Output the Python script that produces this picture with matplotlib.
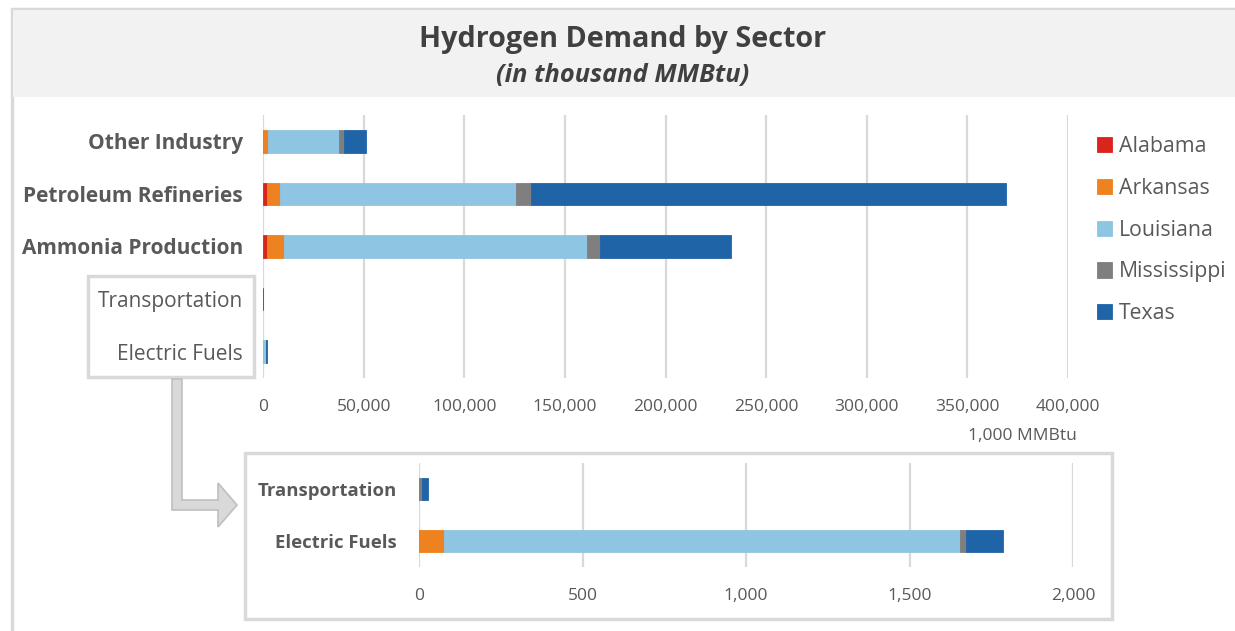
import matplotlib
matplotlib.use('Agg')
import numpy as np
import matplotlib.pyplot as plt
from matplotlib.patches import Rectangle, Polygon
from matplotlib.ticker import FuncFormatter

plt.rcParams['font.family'] = ['Open Sans', 'DejaVu Sans']

# data (thousand MMBtu)
sectors = ['Other Industry', 'Petroleum Refineries', 'Ammonia Production',
           'Transportation', 'Electric Fuels']
states = ['Alabama', 'Arkansas', 'Louisiana', 'Mississippi', 'Texas']
alabama = [0, 2000, 2200, 0, 0]
arkansas = [2300, 6200, 8200, 0, 75]
louisiana = [35700, 117600, 150600, 0, 1580]
mississippi = [2200, 7200, 6600, 8, 17]
texas = [11100, 236400, 64700, 20, 113]
main_ticks = [0, 50000, 100000, 150000, 200000, 250000, 300000, 350000, 400000]
inset_ticks = [0, 500, 1000, 1500, 2000]

series = [alabama, arkansas, louisiana, mississippi, texas]
colors = ['#D9261C', '#EE8220', '#8EC5E3', '#7F7F7F', '#2064A8']

W, H = 1235, 631
TXT = '#595959'
GRID = '#D9D9D9'


def box(x0, y0, x1, y1):
    # pixel box (top-left origin) -> figure fraction rect
    return [x0 / W, 1 - y1 / H, (x1 - x0) / W, (y1 - y0) / H]


fig = plt.figure(figsize=(W / 100, H / 100), dpi=100)

# outer frame and title band
fig.patches.append(Rectangle((12 / W, -0.05), 1.1, 1 - 9 / H + 0.05, transform=fig.transFigure,
                             facecolor='white', edgecolor=GRID, lw=2.5, zorder=-3))
fig.patches.append(Rectangle((13 / W, 1 - 97 / H), 1.1, (97 - 10) / H, transform=fig.transFigure,
                             facecolor='#F2F2F2', edgecolor='none', zorder=-2))
fig.text(623 / W, 1 - 40 / H, 'Hydrogen Demand by Sector', ha='center', va='center',
         fontsize=20.7, fontweight='bold', color='#404040')
fig.text(623 / W, 1 - 76 / H, '(in thousand MMBtu)', ha='center', va='center',
         fontsize=18.3, fontweight='bold', fontstyle='italic', color='#404040')


def stacked(ax, idx, xmax, ticks, bold_rows):
    y = np.arange(len(idx))
    left = np.zeros(len(idx))
    for s, c, name in zip(series, colors, states):
        vals = np.array([s[i] for i in idx], dtype=float)
        ax.barh(y, vals, left=left, height=0.43, color=c, edgecolor=c, lw=0.6,
                label=name, zorder=3)
        left += vals
    ax.set_xlim(0, xmax)
    ax.set_ylim(len(idx) - 0.5, -0.5)
    ax.set_xticks(ticks)
    ax.xaxis.set_major_formatter(FuncFormatter(lambda v, p: f'{v:,.0f}'))
    ax.set_yticks(y)
    ax.set_yticklabels([sectors[i] for i in idx])
    for lab, b in zip(ax.get_yticklabels(), bold_rows):
        lab.set_fontweight('bold' if b else 'normal')
    ax.grid(axis='x', color=GRID, lw=1.6, zorder=0)
    for sp in ax.spines.values():
        sp.set_visible(False)
    ax.tick_params(length=0, colors=TXT)
    ax.tick_params(axis='y', labelsize=15, pad=14.5)
    ax.tick_params(axis='x', labelsize=12.5, pad=15)
    ax.set_facecolor('none')


# label box + arrow (behind the axes)
fig.patches.append(Rectangle((88 / W, 1 - 377 / H), 166 / W, 101 / H, transform=fig.transFigure,
                             facecolor='white', edgecolor=GRID, lw=2.5, zorder=-1))
arrow_px = [(172, 379), (182, 379), (182, 500), (218, 500), (218, 483), (237, 505),
            (218, 527), (218, 510), (172, 510)]
fig.patches.append(Polygon([(x / W, 1 - y / H) for x, y in arrow_px], closed=True,
                           transform=fig.transFigure, facecolor='#D9D9D9',
                           edgecolor='#BFBFBF', lw=1.2, zorder=-1))
fig.patches.append(Rectangle((245 / W, 1 - 619 / H), (1112 - 245) / W, (619 - 453) / H,
                             transform=fig.transFigure, facecolor='white', edgecolor=GRID,
                             lw=2.5, zorder=-1))

# main chart
ax = fig.add_axes(box(263, 115, 1068, 378))
stacked(ax, [0, 1, 2, 3, 4], 400000, main_ticks, [True, True, True, False, False])
fig.text(1022 / W, 1 - 436 / H, '1,000 MMBtu', ha='center', va='center', fontsize=12.5, color=TXT)

leg = ax.legend(loc='upper left', bbox_to_anchor=((1097 - 263) / (1068 - 263), 1 - (136 - 115) / 263),
                frameon=False, fontsize=15.3, handlelength=0.72, handleheight=0.72,
                handletextpad=0.3, labelspacing=0.98, borderaxespad=0, borderpad=0)
for t in leg.get_texts():
    t.set_color(TXT)

# inset chart
ax2 = fig.add_axes(box(419, 463, 1073, 567))
stacked(ax2, [3, 4], 2000, inset_ticks, [True, True])
ax2.tick_params(axis='y', labelsize=13.3, pad=16)

fig.savefig('out.png', dpi=100)
